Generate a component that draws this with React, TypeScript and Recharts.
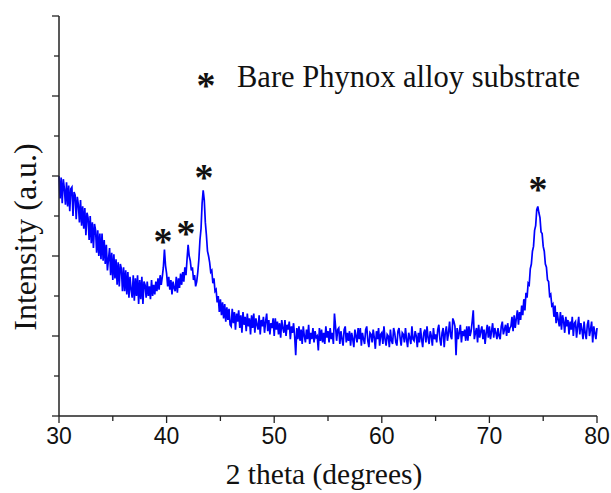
import { LineChart, Line, XAxis, YAxis, ReferenceDot } from "recharts";

// XRD scan, 2theta from 30 to 80 deg in 0.1 deg steps (a.u.)
const THETA_START = 30;
const THETA_STEP = 0.1;

const intensity = [
  300, 272, 298, 266, 296, 284, 264, 292, 262, 288, 256, 284, 286, 250, 280, 276, 246, 274, 264, 242, // 30
  270, 238, 262, 234, 260, 226, 254, 248, 220, 250, 216, 242, 210, 240, 232, 204, 232, 200, 228, 196, // 32
  228, 194, 220, 190, 214, 182, 196, 210, 176, 204, 170, 202, 172, 196, 164, 192, 162, 190, 184, 156, // 34
  186, 156, 182, 152, 180, 148, 174, 158, 148, 176, 144, 172, 150, 176, 140, 170, 146, 174, 140, 168, // 36
  164, 148, 168, 150, 162, 146, 170, 150, 164, 152, 168, 156, 172, 158, 176, 164, 174, 186, 208, 188, // 38
  178, 162, 174, 158, 170, 152, 168, 160, 156, 174, 154, 172, 160, 178, 164, 180, 168, 186, 176, 196, // 40
  214, 200, 194, 182, 186, 170, 176, 162, 168, 180, 196, 220, 234, 266, 282, 270, 242, 226, 206, 200, // 42
  192, 180, 182, 166, 172, 156, 158, 142, 150, 130, 146, 126, 142, 122, 140, 118, 136, 120, 134, 114, // 44
  112, 134, 116, 130, 108, 128, 118, 132, 110, 126, 104, 130, 114, 124, 106, 128, 112, 122, 102, 126, // 46
  110, 128, 104, 122, 114, 108, 126, 102, 120, 112, 124, 104, 118, 128, 106, 120, 102, 116, 110, 122, // 48
  100, 122, 108, 118, 102, 116, 98, 120, 110, 104, 120, 100, 114, 108, 118, 96, 112, 104, 116, 100, // 50
  76, 110, 96, 112, 94, 108, 90, 112, 100, 92, 108, 96, 114, 90, 104, 96, 110, 92, 106, 98, // 52
  100, 82, 110, 94, 108, 92, 104, 90, 112, 98, 106, 92, 110, 96, 104, 90, 128, 112, 94, 108, // 54
  110, 90, 106, 96, 88, 108, 112, 92, 104, 94, 106, 88, 104, 96, 86, 108, 100, 92, 110, 96, // 56
  110, 88, 104, 96, 90, 108, 112, 94, 86, 104, 102, 92, 108, 98, 84, 106, 96, 110, 88, 102, // 58
  104, 90, 112, 96, 88, 102, 100, 86, 108, 94, 90, 110, 104, 92, 88, 106, 110, 98, 88, 104, // 60
  102, 92, 110, 96, 86, 104, 98, 90, 112, 96, 94, 106, 100, 86, 104, 92, 110, 96, 86, 104, // 62
  108, 92, 112, 98, 90, 106, 100, 88, 110, 96, 102, 92, 108, 114, 96, 88, 104, 110, 86, 104, // 64
  112, 94, 104, 118, 100, 96, 122, 118, 112, 76, 110, 96, 104, 114, 92, 106, 100, 108, 94, 112, // 66
  94, 112, 100, 106, 118, 132, 96, 104, 110, 92, 114, 98, 106, 112, 96, 108, 90, 104, 114, 98, // 68
  112, 96, 106, 116, 98, 110, 104, 96, 110, 100, 96, 112, 118, 102, 108, 114, 100, 116, 104, 110, // 70
  112, 124, 106, 126, 110, 122, 132, 114, 130, 120, 138, 126, 146, 132, 154, 148, 166, 164, 184, 190, // 72
  206, 212, 232, 238, 258, 262, 254, 248, 230, 228, 212, 206, 190, 186, 170, 168, 150, 152, 138, 140, // 74
  124, 138, 116, 130, 120, 112, 130, 108, 126, 118, 104, 124, 112, 120, 102, 118, 108, 124, 100, 116, // 76
  118, 98, 112, 124, 102, 116, 108, 96, 118, 104, 96, 114, 120, 100, 108, 118, 92, 112, 104, 96, // 78
  110, // 80
];

const xTicks = [30, 35, 40, 45, 50, 55, 60, 65, 70, 75, 80];
const yTicks = [0, 50, 100, 150, 200, 250, 300, 350, 400, 450, 500];

// asterisks over the substrate reflections (label positions)
const peakMarks = [
  { theta: 39.67, level: 225 },
  { theta: 41.8, level: 235 },
  { theta: 43.48, level: 305 },
  { theta: 74.52, level: 290 },
];

const legendLabel = "Bare Phynox alloy substrate";
const xTitle = "2 theta (degrees)";
const yTitle = "Intensity (a.u.)";

const data = intensity.map((v, i) => ({
  theta: +(THETA_START + i * THETA_STEP).toFixed(1),
  intensity: v,
}));

const AXIS = "#222";
const SERIF = "'Liberation Serif', 'Times New Roman', serif";
const SANS = "'Liberation Sans', Arial, sans-serif";
const STAR_SIZE = 38;

function XTick(props: any) {
  const { x, y, payload } = props;
  const major = payload.value % 10 === 0;
  return (
    <g>
      <line x1={x} x2={x} y1={y} y2={y + (major ? 7 : 5)} stroke={AXIS} strokeWidth={1.3} />
      {major && (
        <text x={x} y={y + 28} textAnchor="middle" fontFamily={SANS} fontSize={23} fill="#111">
          {payload.value}
        </text>
      )}
    </g>
  );
}

function YTick(props: any) {
  const { x, y, payload } = props;
  const major = payload.value % 100 === 0;
  return <line x1={x - (major ? 7 : 5)} x2={x} y1={y} y2={y} stroke={AXIS} strokeWidth={1.3} />;
}

function Star(props: any) {
  const { viewBox } = props;
  const cx = viewBox.x + viewBox.width / 2;
  const cy = viewBox.y + viewBox.height / 2;
  return (
    <text x={cx} y={cy + STAR_SIZE * 0.47} textAnchor="middle" fontFamily={SERIF} fontWeight="bold" fontSize={STAR_SIZE} fill="#111">
      *
    </text>
  );
}

export default function App() {
  return (
    <div style={{ width: 611, height: 493, background: "#fff" }}>
      <style>{`body{margin:0}`}</style>
      <LineChart width={611} height={493} data={data} margin={{ top: 16, right: 14, bottom: 0, left: 0 }}>
        <XAxis
          dataKey="theta"
          type="number"
          domain={[30, 80]}
          ticks={xTicks}
          interval={0}
          height={77}
          tickSize={0}
          tickMargin={0}
          tickLine={false}
          tick={<XTick />}
          axisLine={{ stroke: AXIS, strokeWidth: 1.5 }}
        />
        <XAxis xAxisId="top" orientation="top" type="number" domain={[30, 80]} height={0} tick={false} tickLine={false} axisLine={{ stroke: AXIS, strokeWidth: 1.5 }} />
        <YAxis
          type="number"
          domain={[0, 500]}
          ticks={yTicks}
          interval={0}
          width={59}
          tickSize={0}
          tickMargin={0}
          tickLine={false}
          tick={<YTick />}
          axisLine={{ stroke: AXIS, strokeWidth: 1.5 }}
        />
        <YAxis yAxisId="right" orientation="right" type="number" domain={[0, 500]} width={0} tick={false} tickLine={false} axisLine={{ stroke: AXIS, strokeWidth: 1.5 }} />
        <Line
          type="linear"
          dataKey="intensity"
          stroke="#0000ff"
          strokeWidth={1.7}
          dot={false}
          isAnimationActive={false}
        />
        {peakMarks.map((m) => (
          <ReferenceDot key={m.theta} x={m.theta} y={m.level} r={0} fill="none" stroke="none" label={<Star />} />
        ))}
        <text x={206} y={80 + STAR_SIZE * 0.47} textAnchor="middle" fontFamily={SERIF} fontWeight="bold" fontSize={STAR_SIZE} fill="#111">
          *
        </text>
        <text x={237} y={87} fontFamily={SERIF} fontSize={30.5} fill="#111">
          {legendLabel}
        </text>
        <text x={324} y={484} textAnchor="middle" fontFamily={SERIF} fontSize={29.5} fill="#111">
          {xTitle}
        </text>
        <text x={25} y={237} transform="rotate(-90 25 237)" textAnchor="middle" dominantBaseline="central" fontFamily={SERIF} fontSize={32} fill="#111">
          {yTitle}
        </text>
      </LineChart>
    </div>
  );
}
